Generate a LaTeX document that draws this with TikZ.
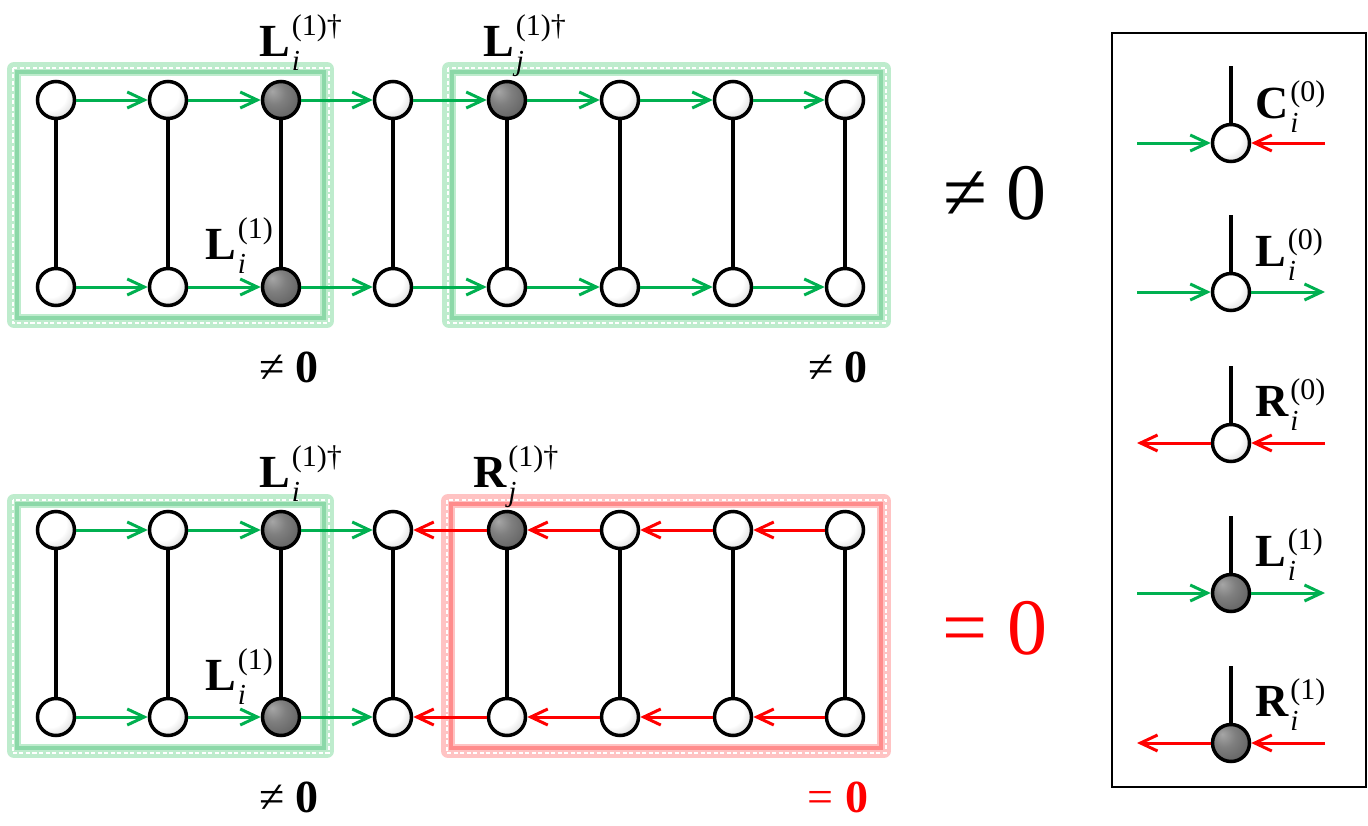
\documentclass[tikz,border=0pt]{standalone}
\usepackage{fontspec}
\setmainfont{Liberation Serif}
\usetikzlibrary{arrows.meta}
\definecolor{gline}{RGB}{0,176,80}
\definecolor{rline}{RGB}{255,0,0}
\definecolor{gglow}{RGB}{190,236,205}
\definecolor{gglow2}{RGB}{140,216,168}
\definecolor{rglow}{RGB}{255,195,195}
\definecolor{rglow2}{RGB}{255,140,140}
\pgfdeclareradialshading{wball}{\pgfpoint{-12bp}{12bp}}{color(0bp)=(white); color(22bp)=(white); color(40bp)=(black!20); color(50bp)=(black!40); color(70bp)=(black!40)}
\pgfdeclareradialshading{dball}{\pgfpoint{-12bp}{12bp}}{color(0bp)=(black!35); color(15bp)=(black!50); color(35bp)=(black!62); color(50bp)=(black!80); color(70bp)=(black!80)}
\newcommand{\tlab}[4]{{\fontsize{46}{46}\selectfont\bfseries #1}\kern2pt\rlap{\raisebox{-14pt}{\fontsize{29}{29}\selectfont\itshape #2}}\raisebox{#4}{\fontsize{30}{30}\selectfont #3}}
\tikzset{
  wn/.style={circle, draw=black, line width=3.5pt, minimum size=37pt, inner sep=0pt, shade, shading=wball},
  dn/.style={circle, draw=black, line width=3.5pt, minimum size=37pt, inner sep=0pt, shade, shading=dball},
  ga/.style={gline, line width=3pt, -{Straight Barb[length=17pt,width=16pt]}},
  ra/.style={rline, line width=3pt, -{Straight Barb[length=17pt,width=16pt]}},
  rung/.style={black, line width=3.2pt},
  lab/.style={inner sep=0pt, anchor=base west},
}
\begin{document}
\begin{tikzpicture}[x=1pt,y=-1pt]
\useasboundingbox (0,0) rectangle (1368,825);
% glow boxes
\foreach \a/\b/\c/\d/\co/\ct in {14/69/327/321/gglow/gglow2, 449/69/884/321/gglow/gglow2, 14/501/327/751/gglow/gglow2, 448/501/884/751/rglow/rglow2}{
  \draw[\co, line width=14pt, line join=round] (\a,\b) rectangle (\c,\d);
  \draw[\ct, line width=4pt] (\a+3,\b+3) rectangle (\c-3,\d-3);
  \draw[white, line width=2pt, dash pattern=on 4pt off 2.5pt] (\a-1.5,\b-1.5) rectangle (\c+1.5,\d+1.5);
}
% panel A
\node[wn] (p1) at (56,100) {};
\node[wn] (p2) at (168,100) {};
\node[dn] (p3) at (281,100) {};
\node[wn] (p4) at (393,100) {};
\node[dn] (p5) at (507,100) {};
\node[wn] (p6) at (620,100) {};
\node[wn] (p7) at (733,100) {};
\node[wn] (p8) at (845,100) {};
\node[wn] (q1) at (56,287) {};
\node[wn] (q2) at (168,287) {};
\node[dn] (q3) at (281,287) {};
\node[wn] (q4) at (393,287) {};
\node[wn] (q5) at (507,287) {};
\node[wn] (q6) at (620,287) {};
\node[wn] (q7) at (733,287) {};
\node[wn] (q8) at (845,287) {};
% panel B
\node[wn] (r1) at (56,530) {};
\node[wn] (r2) at (168,530) {};
\node[dn] (r3) at (281,530) {};
\node[wn] (r4) at (393,530) {};
\node[dn] (r5) at (507,530) {};
\node[wn] (r6) at (620,530) {};
\node[wn] (r7) at (733,530) {};
\node[wn] (r8) at (845,530) {};
\node[wn] (s1) at (56,717) {};
\node[wn] (s2) at (168,717) {};
\node[dn] (s3) at (281,717) {};
\node[wn] (s4) at (393,717) {};
\node[wn] (s5) at (507,717) {};
\node[wn] (s6) at (620,717) {};
\node[wn] (s7) at (733,717) {};
\node[wn] (s8) at (845,717) {};
\foreach \i in {1,...,8}{
  \draw[rung] (p\i) -- (q\i);
  \draw[rung] (r\i) -- (s\i);
}
\foreach \i/\j in {1/2,2/3,3/4,4/5,5/6,6/7,7/8}{
  \draw[ga] (p\i) -- (p\j);
  \draw[ga] (q\i) -- (q\j);
}
\foreach \i/\j in {1/2,2/3,3/4}{
  \draw[ga] (r\i) -- (r\j);
  \draw[ga] (s\i) -- (s\j);
}
\foreach \i/\j in {8/7,7/6,6/5,5/4}{
  \draw[ra] (r\i) -- (r\j);
  \draw[ra] (s\i) -- (s\j);
}
% labels panel A
\node[lab] (la1) at (259,56) {\tlab{L}{i}{(1)†}{21pt}};
\node[lab] (la2) at (483,56) {\tlab{L}{j}{(1)†}{21pt}};
\node[lab] (la3) at (205,259) {\tlab{L}{i}{(1)}{21pt}};
\node (za1) at (289,367) {\fontsize{46}{46}\selectfont ≠ \textbf{0}};
\node (za2) at (838,367) {\fontsize{46}{46}\selectfont ≠ \textbf{0}};
\node (za3) at (995,193) {\fontsize{80}{80}\selectfont ≠ 0};
% labels panel B
\node[lab] (lb1) at (259,487) {\tlab{L}{i}{(1)†}{21pt}};
\node[lab] (lb2) at (473,487) {\tlab{R}{j}{(1)†}{21pt}};
\node[lab] (lb3) at (205,690) {\tlab{L}{i}{(1)}{21pt}};
\node (zb1) at (289,797) {\fontsize{46}{46}\selectfont ≠ \textbf{0}};
\node[rline] (zb2) at (838,797) {\fontsize{46}{46}\selectfont = \textbf{0}};
\node[rline] (zb3) at (995,628) {\fontsize{80}{80}\selectfont = 0};
% legend
\draw[black, line width=2pt] (1112,33) rectangle (1366,787);
\foreach \k/\y in {1/143,2/292,3/443,4/593,5/743}{
  \coordinate (lt\k) at (1231,\y-77);
  \coordinate (lw\k) at (1137,\y);
  \coordinate (le\k) at (1325,\y);
}
\node[wn] (l1) at (1231,143) {};
\node[wn] (l2) at (1231,292) {};
\node[wn] (l3) at (1231,443) {};
\node[dn] (l4) at (1231,593) {};
\node[dn] (l5) at (1231,743) {};
\foreach \k in {1,...,5}{ \draw[rung] (l\k) -- (lt\k); }
\draw[ga] (lw1) -- (l1); \draw[ra] (le1) -- (l1);
\draw[ga] (lw2) -- (l2); \draw[ga] (l2) -- (le2);
\draw[ra] (l3) -- (lw3); \draw[ra] (le3) -- (l3);
\draw[ga] (lw4) -- (l4); \draw[ga] (l4) -- (le4);
\draw[ra] (l5) -- (lw5); \draw[ra] (le5) -- (l5);
\node[lab] (lg1) at (1255,118) {\tlab{C}{i}{(0)}{17pt}};
\node[lab] (lg2) at (1255,266) {\tlab{L}{i}{(0)}{17pt}};
\node[lab] (lg3) at (1255,416) {\tlab{R}{i}{(0)}{17pt}};
\node[lab] (lg4) at (1255,566) {\tlab{L}{i}{(1)}{17pt}};
\node[lab] (lg5) at (1255,716) {\tlab{R}{i}{(1)}{17pt}};
\end{tikzpicture}
\end{document}
